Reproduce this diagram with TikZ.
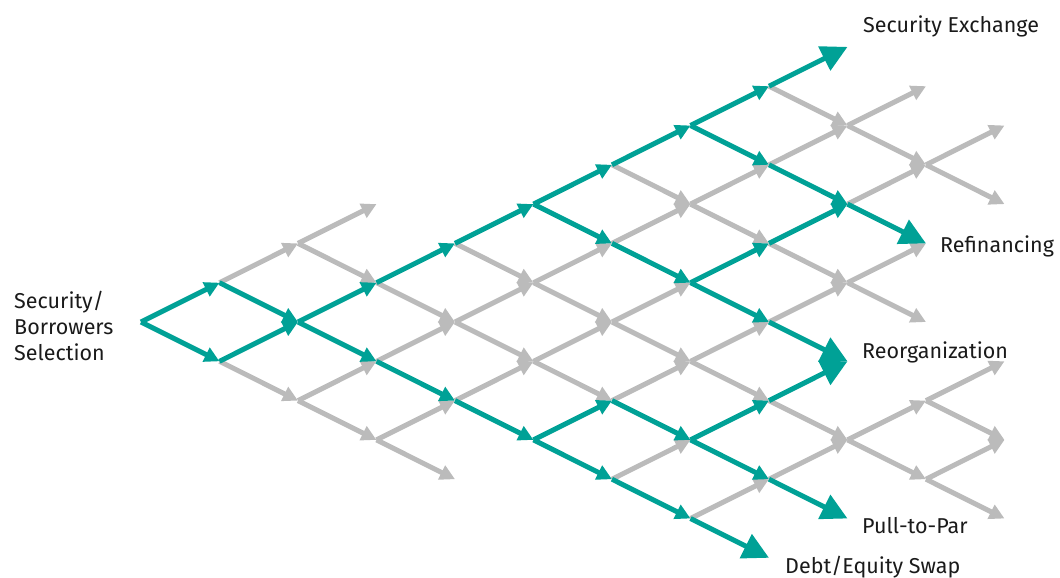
\documentclass[tikz,border=0pt]{standalone}
\usepackage{fontspec}
\setmainfont{Fira Sans}
\usetikzlibrary{arrows.meta}
\definecolor{pathteal}{RGB}{0,161,150}
\definecolor{pathgray}{RGB}{187,187,187}
\definecolor{labelink}{RGB}{26,26,26}
\begin{document}
\begin{tikzpicture}[x=1pt,y=-1pt,
  grayarrow/.style={pathgray, line width=5pt, -{Triangle[length=15pt,width=15pt]}},
  tealarrow/.style={pathteal, line width=5pt, -{Triangle[length=15pt,width=15pt]}},
  tealbig/.style={pathteal, line width=5pt, -{Triangle[length=26pt,width=26pt]}},
  lbl/.style={text=labelink, font=\fontsize{21.5}{26}\selectfont, inner sep=0pt}]
\useasboundingbox (0,0) rectangle (1060,578);

% lattice points: column c, row offset r
\foreach \c in {0,...,11}
  \foreach \r in {-8,...,8}
    \coordinate (n-\c-\r) at ({141+78.5*\c},{322+39.3*\r});

% grey branches
\foreach \c/\a/\d/\b in {
  1/-1/2/-2, 1/1/2/2,
  2/-2/3/-3, 2/-2/3/-1, 2/2/3/1, 2/2/3/3,
  3/-1/4/0, 3/1/4/0, 3/3/4/2, 3/3/4/4,
  4/-2/5/-1, 4/0/5/-1, 4/0/5/1, 4/2/5/1,
  5/-1/6/-2, 5/-1/6/0, 5/1/6/0, 5/1/6/2,
  6/-4/7/-3, 6/-2/7/-3, 6/0/7/-1, 6/0/7/1, 6/2/7/1, 6/4/7/3,
  7/-3/8/-4, 7/-3/8/-2, 7/1/8/0, 7/1/8/2, 7/5/8/4,
  8/-6/9/-5, 8/-4/9/-5, 8/-2/9/-1, 8/0/9/-1, 8/2/9/3, 8/4/9/3,
  9/-5/10/-6, 9/-5/10/-4, 9/-3/10/-4, 9/-1/10/-2, 9/-1/10/0, 9/3/10/2, 9/3/10/4,
  10/-4/11/-5, 10/-4/11/-3, 10/2/11/1, 10/2/11/3, 10/4/11/3, 10/4/11/5}
  \draw[grayarrow] (n-\c-\a) -- (n-\d-\b);

% highlighted paths
\foreach \c/\a/\d/\b in {
  0/0/1/-1, 0/0/1/1, 1/-1/2/0, 1/1/2/0, 2/0/3/-1, 2/0/3/1,
  3/-1/4/-2, 3/1/4/2, 4/-2/5/-3, 4/2/5/3,
  5/-3/6/-4, 5/-3/6/-2, 5/3/6/2, 5/3/6/4,
  6/-4/7/-5, 6/-2/7/-1, 6/2/7/3, 6/4/7/5,
  7/-5/8/-6, 7/-5/8/-4, 7/-1/8/-2, 7/-1/8/0, 7/3/8/2, 7/3/8/4,
  8/-4/9/-3, 8/-2/9/-3}
  \draw[tealarrow] (n-\c-\a) -- (n-\d-\b);

% outcome arrows
\draw[tealbig] (n-8--6) -- (n-9--7);
\draw[tealbig] (n-9--3) -- (n-10--2);
\draw[tealbig] (n-8-0) -- (n-9-1);
\draw[tealbig] (n-8-2) -- (n-9-1);
\draw[tealbig] (n-8-4) -- (n-9-5);
\draw[tealbig] (n-7-5) -- (n-8-6);

% labels
\node[lbl, anchor=west, align=left] (start) at (14,326) {Security/\\Borrowers\\Selection};
\node[lbl, anchor=base west] (secex) at (863,33) {Security Exchange};
\node[lbl, anchor=base west] (refin) at (940,252) {Refinancing};
\node[lbl, anchor=base west] (reorg) at (862,358) {Reorganization};
\node[lbl, anchor=base west] (pullpar) at (862,533) {Pull-to-Par};
\node[lbl, anchor=base west] (swap) at (785,573) {Debt/Equity Swap};
\end{tikzpicture}
\end{document}
